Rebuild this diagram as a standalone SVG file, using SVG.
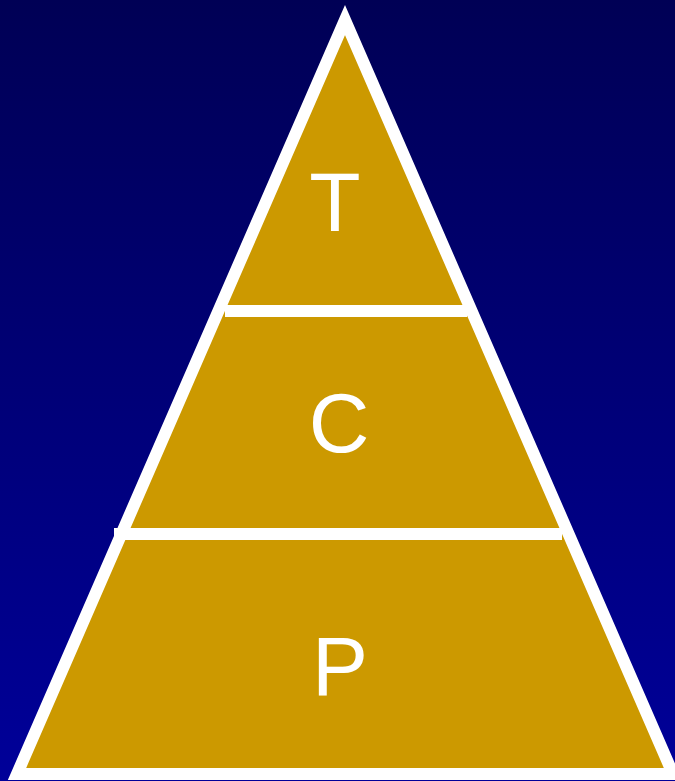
<svg xmlns="http://www.w3.org/2000/svg" width="675" height="781" viewBox="0 0 675 781">
<defs>
<linearGradient id="bg" x1="0" y1="0" x2="0" y2="1">
<stop offset="0" stop-color="#000055"/>
<stop offset="1" stop-color="#000099"/>
</linearGradient>
</defs>
<style>
.lbl{font-family:"Liberation Sans",Arial,sans-serif;font-size:84px;fill:#ffffff;text-anchor:middle}
.div{stroke:#ffffff;stroke-width:12;fill:none}
</style>
<rect width="675" height="781" fill="url(#bg)"/>
<g id="pyramid">
<polygon points="345,20 17,774 673,774" fill="#CC9900" stroke="#ffffff" stroke-width="12" stroke-linejoin="miter"/>
</g>
<g id="connectors">
<line class="div" x1="225" y1="311" x2="467" y2="311"/>
<line class="div" x1="114" y1="534" x2="562" y2="534"/>
</g>
<g id="node-T"><text class="lbl" x="335" y="231">T</text></g>
<g id="node-C"><text class="lbl" x="339" y="452">C</text></g>
<g id="node-P"><text class="lbl" x="340" y="695">P</text></g>
</svg>
